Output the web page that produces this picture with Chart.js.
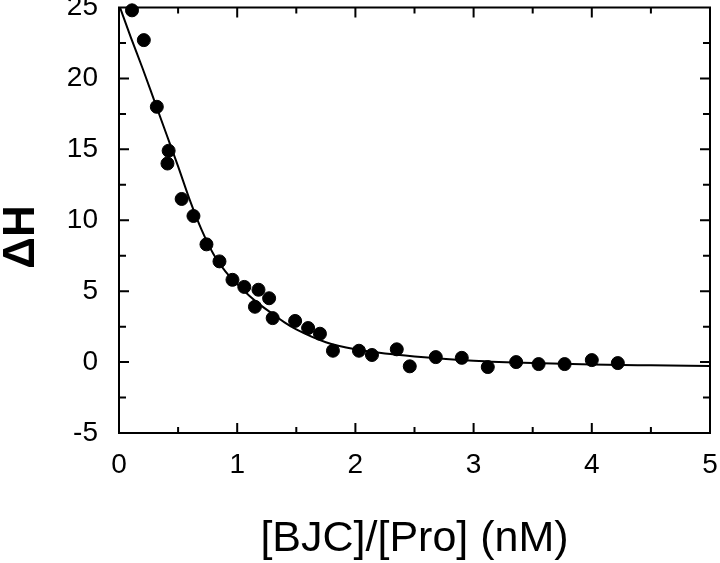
<!DOCTYPE html>
<html>
<head>
<meta charset="utf-8">
<script src="https://cdn.jsdelivr.net/npm/chart.js@4"></script>
<style>
  html, body { margin: 0; padding: 0; background: #fff; }
  #wrap { width: 720px; height: 563px; }
</style>
</head>
<body>
<div id="wrap"><canvas id="dhChart" width="720" height="563"></canvas></div>
<script>
// measured points
const ratio = [0.11, 0.21, 0.32, 0.42, 0.41, 0.53, 0.63, 0.74, 0.85, 0.96, 1.06, 1.18, 1.15, 1.27, 1.30,
               1.49, 1.60, 1.70, 1.81, 2.03, 2.14, 2.35, 2.46, 2.68, 2.90, 3.12, 3.36, 3.55, 3.77, 4.00, 4.22];
const deltaH = [24.8, 22.7, 18.0, 14.9, 14.0, 11.5, 10.3, 8.3, 7.1, 5.8, 5.3, 5.1, 3.9, 4.5, 3.1,
                2.9, 2.4, 2.0, 0.8, 0.8, 0.5, 0.9, -0.3, 0.35, 0.3, -0.35, 0.0, -0.14, -0.14, 0.14, -0.07];

// fitted curve
const fitX = [0, 0.1, 0.2, 0.3, 0.4, 0.5, 0.6, 0.7, 0.8, 0.9, 1.0, 1.1, 1.2, 1.3, 1.4, 1.5,
              1.75, 2.0, 2.25, 2.5, 3.0, 3.5, 4.0, 4.5, 5.0];
const fitY = [25.2, 22.9, 20.7, 18.4, 16.1, 13.8, 11.4, 9.3, 7.6, 6.4, 5.5, 4.7, 4.0, 3.4, 2.8, 2.3,
              1.4, 0.9, 0.6, 0.4, 0.1, -0.07, -0.17, -0.23, -0.28];

const xTickLabels = [0, 1, 2, 3, 4, 5];
const yTickLabels = [-5, 0, 5, 10, 15, 20, 25];

const toPoints = (xs, ys) => xs.map((x, i) => ({ x: x, y: ys[i] }));

// inward tick marks on all four sides
const innerTicks = {
    id: 'innerTicks',
    afterDraw(chart) {
        const { ctx, chartArea: a, scales: { x, y } } = chart;
        ctx.save();
        ctx.strokeStyle = '#000';
        ctx.lineWidth = 2;
        ctx.beginPath();
        for (let v = 0.5; v < 5; v += 0.5) {
            const px = x.getPixelForValue(v);
            const len = Number.isInteger(v) ? 10 : 6;
            ctx.moveTo(px, a.bottom); ctx.lineTo(px, a.bottom - len);
            ctx.moveTo(px, a.top); ctx.lineTo(px, a.top + len);
        }
        for (let v = -2.5; v < 25; v += 2.5) {
            const py = y.getPixelForValue(v);
            const len = Number.isInteger(v / 5) ? 10 : 7;
            ctx.moveTo(a.left, py); ctx.lineTo(a.left + len, py);
            ctx.moveTo(a.right, py); ctx.lineTo(a.right - len, py);
        }
        ctx.stroke();
        ctx.strokeRect(a.left, a.top, a.right - a.left, a.bottom - a.top);
        ctx.restore();
    }
};

// y axis title, set a little below the axis centre as in the figure
const yTitle = {
    id: 'yTitle',
    afterDraw(chart) {
        const ctx = chart.ctx;
        ctx.save();
        ctx.translate(22, 237);
        ctx.rotate(-Math.PI / 2);
        ctx.font = 'bold 44px "Liberation Sans", Arial, sans-serif';
        ctx.fillStyle = '#000';
        ctx.textAlign = 'center';
        ctx.textBaseline = 'middle';
        ctx.fillText('\u0394H', 0, 0);
        ctx.restore();
    }
};

const tickFont = { family: '"Liberation Sans", Arial, sans-serif', size: 28 };

new Chart(document.getElementById('dhChart').getContext('2d'), {
    type: 'scatter',
    data: {
        datasets: [{
            data: toPoints(ratio, deltaH),
            backgroundColor: '#000',
            borderColor: '#000',
            pointRadius: 6.5,
            pointHoverRadius: 6.5,
            clip: false
        }, {
            data: toPoints(fitX, fitY),
            showLine: true,
            borderColor: '#000',
            borderWidth: 2,
            pointRadius: 0,
            cubicInterpolationMode: 'monotone'
        }]
    },
    options: {
        responsive: false,
        animation: false,
        layout: { padding: { top: 7, right: 10, left: 0, bottom: 0 } },
        plugins: {
            legend: { display: false },
            tooltip: { enabled: false }
        },
        scales: {
            x: {
                type: 'linear',
                min: 0,
                max: 5,
                afterFit: s => { s.height = 130; s.paddingLeft = 0; s.paddingRight = 0; },
                afterBuildTicks: s => { s.ticks = xTickLabels.map(v => ({ value: v })); },
                ticks: { font: tickFont, color: '#000', padding: 15, maxRotation: 0 },
                grid: { display: false, drawTicks: false },
                border: { display: true, color: '#000', width: 2 },
                title: {
                    display: true,
                    text: '[BJC]/[Pro] (nM)',
                    color: '#000',
                    font: { family: '"Liberation Sans", Arial, sans-serif', size: 43, lineHeight: 1 },
                    padding: { top: 0, bottom: 2 }
                }
            },
            y: {
                min: -5,
                max: 25,
                afterFit: s => { s.width = 119; s.paddingTop = 0; s.paddingBottom = 0; },
                afterBuildTicks: s => { s.ticks = yTickLabels.map(v => ({ value: v })); },
                ticks: { font: tickFont, color: '#000', padding: 21 },
                grid: { display: false, drawTicks: false },
                border: { display: true, color: '#000', width: 2 }
            }
        }
    },
    plugins: [innerTicks, yTitle]
});
</script>
</body>
</html>
